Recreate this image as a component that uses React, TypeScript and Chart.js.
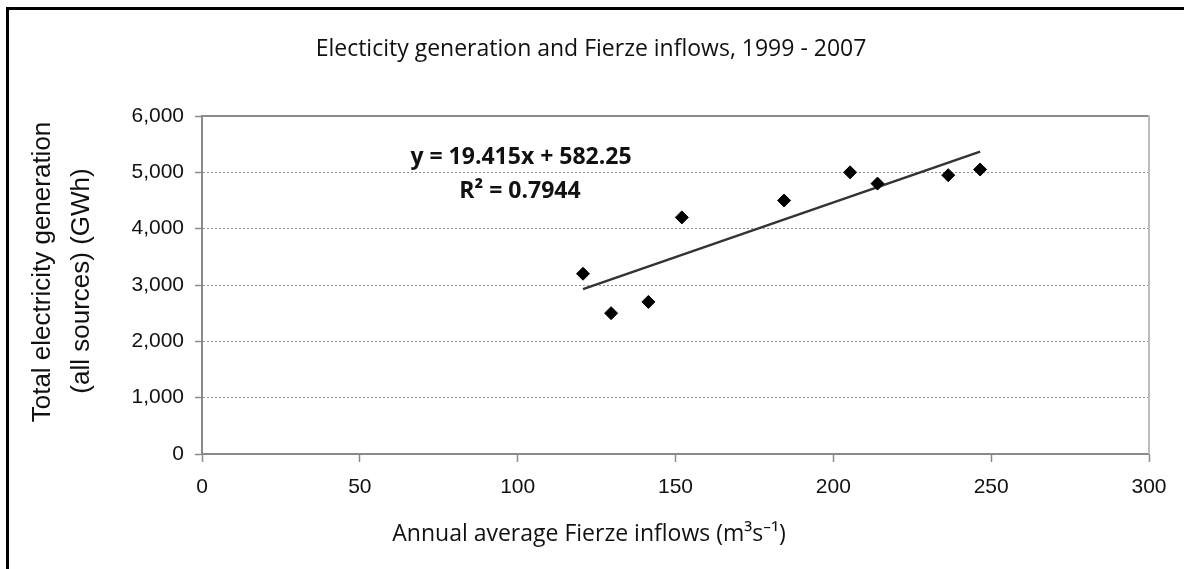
import React, { useEffect, useRef } from "react";
import { Chart, registerables } from "chart.js";

Chart.register(...registerables);

// Data
const inflows = [120.7, 129.6, 141.4, 152.0, 184.4, 205.3, 214.0, 236.4, 246.5];
const generation = [3200, 2500, 2700, 4200, 4500, 5000, 4800, 4950, 5050];
const trendX = [120.7, 246.5];
const trendY = [2926, 5368];

const titleText = "Electicity generation and Fierze inflows, 1999 - 2007";
const xTitle = "Annual average Fierze inflows (m³s⁻¹)";
const yTitle = ["Total electricity generation", "(all sources) (GWh)"];
const equationText = "y = 19.415x + 582.25";
const rSquaredText = "R² = 0.7944";

const xMin = 0;
const xMax = 300;
const xStep = 50;
const yMin = 0;
const yMax = 6000;
const yStep = 1000;

const TICK_FONT = "'Liberation Sans', Arial, sans-serif";
const TEXT_FONT = "'Open Sans', 'Noto Sans', sans-serif";

const textPlugin = {
  id: "texts",
  afterDraw(chart: any) {
    const { ctx, chartArea } = chart;
    ctx.save();
    // top and right border of plot area
    ctx.lineWidth = 2;
    ctx.strokeStyle = "#8a8a8a";
    ctx.beginPath();
    ctx.moveTo(chartArea.left, chartArea.top);
    ctx.lineTo(chartArea.right, chartArea.top);
    ctx.stroke();
    ctx.strokeStyle = "#bdbdbd";
    ctx.beginPath();
    ctx.moveTo(chartArea.right, chartArea.top - 1);
    ctx.lineTo(chartArea.right, chartArea.bottom);
    ctx.stroke();

    ctx.fillStyle = "#111";
    ctx.textAlign = "center";
    ctx.textBaseline = "middle";
    // title
    ctx.font = `23px ${TEXT_FONT}`;
    ctx.fillText(titleText, 591, 49);
    // x title
    ctx.font = `23px ${TEXT_FONT}`;
    ctx.fillText(xTitle, 589, 534);
    // y title
    ctx.font = `26px ${TICK_FONT}`;
    ctx.save();
    ctx.translate(43, 272);
    ctx.rotate(-Math.PI / 2);
    ctx.fillText(yTitle[0], 0, 0);
    ctx.restore();
    ctx.save();
    ctx.translate(82, 281);
    ctx.rotate(-Math.PI / 2);
    ctx.fillText(yTitle[1], 0, 0);
    ctx.restore();
    // equation
    ctx.font = `bold 23px ${TEXT_FONT}`;
    ctx.fillText(equationText, 521, 157);
    ctx.fillText(rSquaredText, 520, 191);
    ctx.restore();
  },
};

export default function App() {
  const canvasRef = useRef<HTMLCanvasElement | null>(null);

  useEffect(() => {
    if (!canvasRef.current) return;
    const chart = new Chart(canvasRef.current, {
      type: "scatter",
      data: {
        datasets: [
          {
            label: "Generation",
            data: inflows.map((x, i) => ({ x, y: generation[i] })),
            pointStyle: "rectRot",
            pointRadius: 6.5,
            pointHoverRadius: 6.5,
            backgroundColor: "#000",
            borderColor: "#000",
            borderWidth: 1,
          },
          {
            label: "Trend",
            type: "line",
            data: trendX.map((x, i) => ({ x, y: trendY[i] })),
            borderColor: "#333",
            borderWidth: 2.5,
            pointRadius: 0,
            fill: false,
          } as any,
        ],
      },
      options: {
        responsive: false,
        animation: false,
        layout: { padding: { top: 116, right: 35, bottom: 0, left: 0 } },
        plugins: {
          legend: { display: false },
          title: { display: false },
          tooltip: { enabled: false },
        },
        scales: {
          x: {
            type: "linear",
            min: xMin,
            max: xMax,
            afterFit: (s: any) => {
              s.height = 115;
            },
            ticks: {
              stepSize: xStep,
              padding: 13,
              color: "#111",
              font: { family: TICK_FONT, size: 21 },
            },
            grid: {
              color: "transparent",
              tickColor: "#8a8a8a",
              tickLength: 8,
              tickWidth: 1.5,
            },
            border: { color: "#8a8a8a", width: 2 },
          },
          y: {
            type: "linear",
            min: yMin,
            max: yMax,
            afterFit: (s: any) => {
              s.width = 202;
            },
            ticks: {
              stepSize: yStep,
              padding: 11,
              color: "#111",
              font: { family: TICK_FONT, size: 21 },
              callback: (v: any) => Number(v).toLocaleString("en-US"),
            },
            grid: {
              color: (c: any) =>
                c.tick && (c.tick.value === yMin || c.tick.value === yMax) ? "transparent" : "#8a8a8a",
              tickColor: "#8a8a8a",
              tickLength: 7,
              tickWidth: 1.5,
              lineWidth: 1,
            },
            border: { color: "#8a8a8a", width: 2, dash: [2, 2] },
          },
        },
      },
      plugins: [textPlugin],
    });
    return () => chart.destroy();
  }, []);

  return (
    <div style={{ position: "fixed", left: 0, top: 0, width: 1184, height: 569, background: "#fff", overflow: "hidden" }}>
      <div
        style={{
          position: "absolute",
          left: 6,
          top: 7,
          width: 1300,
          height: 700,
          borderLeft: "3px solid #000",
          borderTop: "3px solid #000",
        }}
      />
      <canvas ref={canvasRef} width={1184} height={569} style={{ position: "absolute", left: 0, top: 0 }} />
    </div>
  );
}
